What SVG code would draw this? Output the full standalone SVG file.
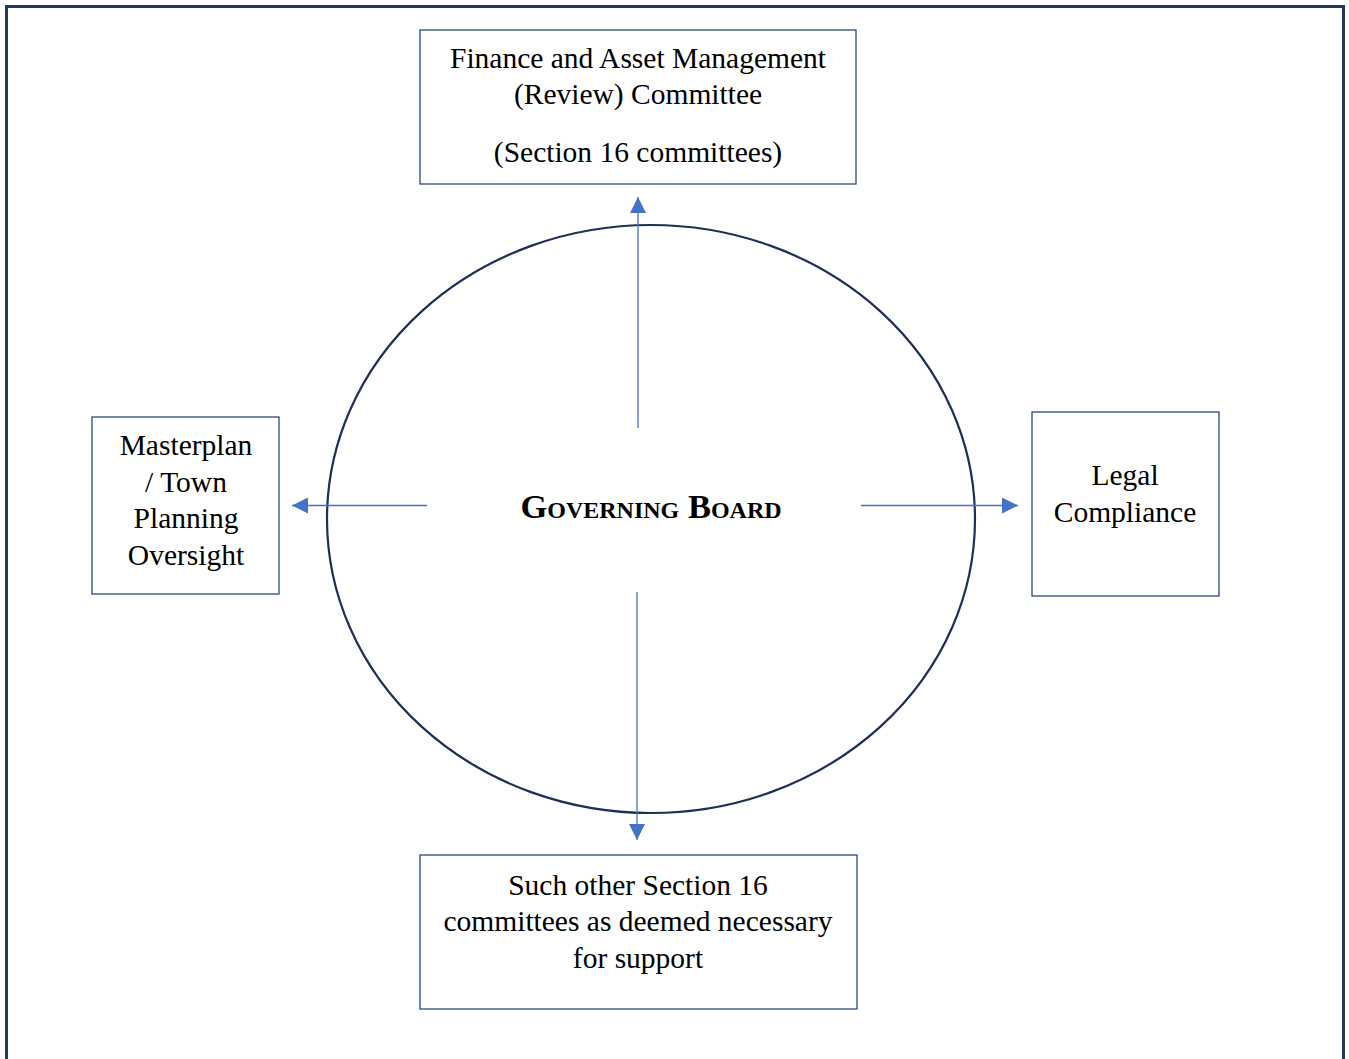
<svg xmlns="http://www.w3.org/2000/svg" width="1349" height="1059" viewBox="0 0 1349 1059">
<style>
.box{fill:#fff;stroke:#2f4a7a;stroke-width:1.3}
.t{font-family:"Liberation Serif","Times New Roman",serif;font-size:29.5px;fill:#000;text-anchor:middle}
.c{stroke:#4472c4;stroke-width:1.3;fill:none}
</style>
<defs>
<marker id="ah" viewBox="0 0 10 10" refX="10" refY="5" markerWidth="16" markerHeight="16" markerUnits="userSpaceOnUse" orient="auto">
<path d="M0,0 L10,5 L0,10 z" fill="#4472c4"/>
</marker>
</defs>
<rect width="1349" height="1059" fill="#fff"/>
<path d="M6.5,1059 V6.5 H1343.5 V1059" fill="none" stroke="#1f3864" stroke-width="3"/>
<g id="board">
<ellipse cx="651" cy="519" rx="324" ry="294" fill="none" stroke="#1f2f56" stroke-width="2.2"/>
<text x="651" y="518" class="t" style="font-weight:bold;font-variant:small-caps;font-size:34.5px">Governing Board</text>
</g>
<g id="finance">
<rect class="box" x="420" y="30" width="436" height="154"/>
<text class="t" x="638" y="68">Finance and Asset Management</text>
<text class="t" x="638" y="104">(Review) Committee</text>
<text class="t" x="638" y="162">(Section 16 committees)</text>
</g>
<g id="masterplan">
<rect class="box" x="92" y="417" width="187" height="177"/>
<text class="t" x="186" y="455">Masterplan</text>
<text class="t" x="186" y="492">/ Town</text>
<text class="t" x="186" y="528">Planning</text>
<text class="t" x="186" y="565">Oversight</text>
</g>
<g id="legal">
<rect class="box" x="1032" y="412" width="187" height="184"/>
<text class="t" x="1125" y="485">Legal</text>
<text class="t" x="1125" y="522">Compliance</text>
</g>
<g id="other">
<rect class="box" x="420" y="855" width="437" height="154"/>
<text class="t" x="638" y="895">Such other Section 16</text>
<text class="t" x="638" y="931">committees as deemed necessary</text>
<text class="t" x="638" y="968">for support</text>
</g>
<g id="connectors">
<line class="c" x1="638" y1="428" x2="638" y2="197" marker-end="url(#ah)"/>
<line class="c" x1="427" y1="505.5" x2="292" y2="505.5" marker-end="url(#ah)"/>
<line class="c" x1="861" y1="505.5" x2="1018" y2="505.5" marker-end="url(#ah)"/>
<line class="c" x1="637" y1="592" x2="637" y2="840" marker-end="url(#ah)"/>
</g>
</svg>
